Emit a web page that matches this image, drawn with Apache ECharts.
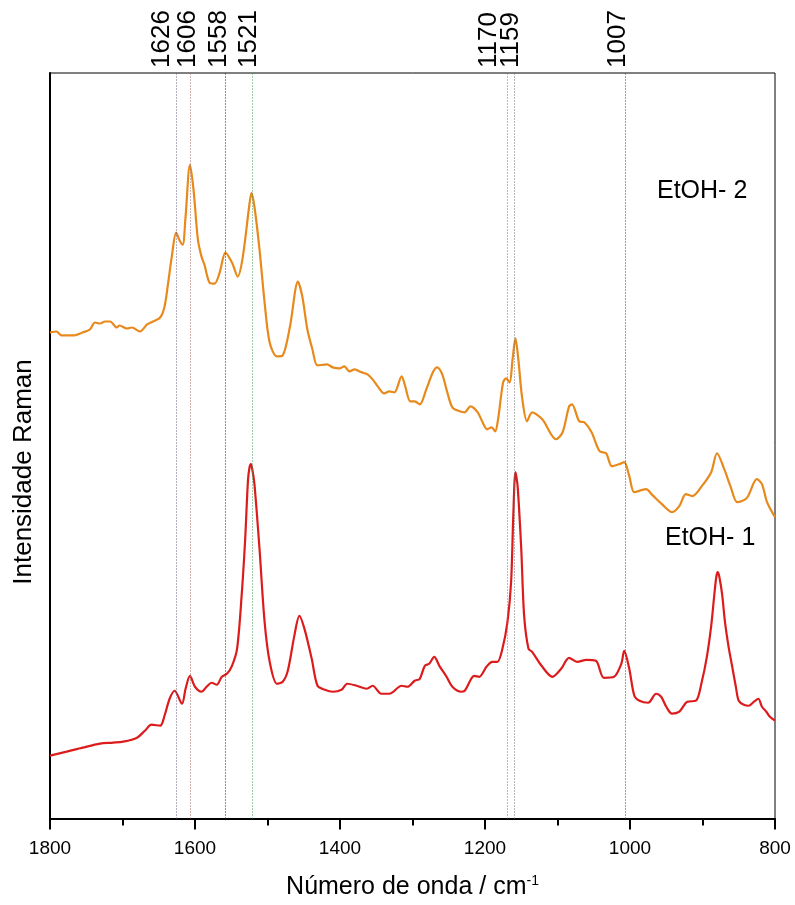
<!DOCTYPE html>
<html>
<head>
<meta charset="utf-8">
<script src="https://cdn.jsdelivr.net/npm/echarts@6/dist/echarts.min.js"></script>
<style>
html,body{margin:0;padding:0;background:#fff;}
#chart{width:795px;height:905px;}
</style>
</head>
<body>
<div id="chart"></div>
<script>
// ---- Data (wavenumber in cm^-1, Raman intensity in arbitrary units) ----
const wnEtOH2 = [1800,1791,1784,1768,1755,1745,1738,1731,1724,1717,1708,1704,1694,1687,1676,1666,1658,1648,1642,1637,1632,1626,1621,1617,1613,1607,1602,1596,1591,1587,1580,1573,1566,1558,1549,1541,1534,1525,1522,1518,1511,1504,1497,1487,1479,1469,1458,1452,1445,1438,1431,1418,1410,1401,1394,1387,1380,1370,1362,1355,1348,1339,1332,1325,1315,1310,1303,1297,1290,1281,1272,1266,1259,1252,1245,1235,1228,1220,1210,1204,1197,1191,1186,1182,1175,1171,1166,1162,1158,1154,1149,1142,1135,1121,1102,1093,1084,1080,1070,1063,1053,1042,1033,1025,1015,1008,1001,994,978,969,956,942,932,923,914,901,888,880,870,861,852,839,825,818,811,800];
const intEtOH2 = [487,488,484,484,487,490,497,496,498,498,492,494,491,492,488,495,498,502,513,537,563,587,579,575,603,655,630,580,563,555,537,536,547,567,557,543,563,615,627,613,570,517,477,463,464,493,538,523,490,470,454,455,452,451,453,448,450,447,445,440,433,426,428,427,443,433,418,418,415,430,447,452,445,427,412,408,407,413,407,398,390,392,388,400,437,441,437,460,481,460,423,398,407,400,380,387,413,415,398,397,387,368,366,353,355,357,343,327,330,324,315,307,313,325,323,333,347,366,350,332,317,321,340,335,317,302];

const wnEtOH1 = [1800,1777,1755,1731,1713,1699,1680,1669,1660,1648,1642,1635,1628,1618,1613,1607,1600,1591,1584,1577,1570,1563,1556,1549,1542,1536,1531,1527,1525,1523,1521,1518,1511,1504,1497,1487,1479,1472,1463,1456,1449,1439,1431,1421,1410,1398,1390,1377,1363,1355,1343,1332,1315,1307,1297,1290,1283,1277,1270,1263,1253,1245,1233,1228,1219,1215,1208,1198,1190,1183,1176,1169,1164,1161,1158,1155,1150,1146,1140,1135,1122,1107,1095,1084,1073,1060,1047,1036,1022,1012,1008,1001,994,987,975,964,957,950,942,932,921,909,901,894,888,884,881,879,877,873,869,864,859,854,850,843,836,829,823,818,812,807,800];
const intEtOH1 = [63,67,71,75,76,77,81,88,94,93,103,120,128,115,130,143,132,127,132,136,134,142,145,153,170,220,277,338,351,355,350,335,270,197,157,135,137,148,183,203,190,160,133,129,127,129,135,133,130,133,125,125,133,132,138,140,153,155,162,153,142,132,127,128,140,143,142,152,157,157,170,197,237,303,347,333,270,203,170,167,153,142,150,161,157,159,158,141,142,155,168,150,123,118,116,125,122,112,105,107,117,118,137,162,193,222,242,247,243,225,197,172,152,132,118,114,113,117,120,112,107,102,98];

const peakPositions = [1626,1606,1558,1521,1170,1159,1007];
const peakLabels = ['1626','1606','1558','1521','1170','1159','1007'];
const seriesNames = ['EtOH- 2','EtOH- 1'];
const xTicks = [1800,1600,1400,1200,1000,800];

// ---- Styles ----
const FONT = 'Liberation Sans, Arial, Helvetica, sans-serif';
const peakColors = ['#6a5a80','#a06868','#202040','#3f9a55','#3f9a55','#707070','#404040'];
const labelDx = [-14,-3,-7,-3,-18,-4,-7];
const Y_MAX = 747;

const zip = (a,b) => a.map((v,i)=>[v,b[i]]);

const chart = echarts.init(document.getElementById('chart'), null, {renderer:'canvas'});
chart.setOption({
  animation: false,
  backgroundColor: '#fff',
  grid: {left:50, right:20, top:73, bottom:85, show:true, borderColor:'#000', borderWidth:1, backgroundColor:'transparent'},
  xAxis: {
    type:'value', min:800, max:1800, interval:200, inverse:true,
    axisLine:{show:true, onZero:false, lineStyle:{color:'#000', width:2}},
    axisTick:{show:true, inside:false, length:11, lineStyle:{color:'#000', width:2}},
    minorTick:{show:true, splitNumber:2, length:7, lineStyle:{color:'#000', width:2}},
    splitLine:{show:false},
    axisLabel:{color:'#000', fontSize:19, fontFamily:FONT, margin:21,
      formatter: v => xTicks.includes(v) ? String(v) : ''},
    name:'Número de onda / cm{sup|-1}',
    nameLocation:'middle', nameGap:56,
    nameTextStyle:{color:'#000', fontSize:25, fontFamily:FONT,
      rich:{sup:{fontSize:14, fontFamily:FONT, color:'#000', verticalAlign:'top', padding:[0,0,12,0]}}}
  },
  yAxis: {
    type:'value', min:0, max:Y_MAX,
    axisLine:{show:true, lineStyle:{color:'#000', width:2}},
    axisTick:{show:false}, axisLabel:{show:false}, splitLine:{show:false}
  },
  graphic: [
    {type:'text', x:24, y:472, rotation:Math.PI/2,
     style:{text:'Intensidade Raman', fontSize:26, fontFamily:FONT, fill:'#000', textAlign:'center', textVerticalAlign:'middle'}},
    {type:'text', x:657, y:191,
     style:{text:seriesNames[0], fontSize:25, fontFamily:FONT, fill:'#000', textAlign:'left', textVerticalAlign:'middle'}},
    {type:'text', x:665, y:538,
     style:{text:seriesNames[1], fontSize:25, fontFamily:FONT, fill:'#000', textAlign:'left', textVerticalAlign:'middle'}}
  ],
  series: [
    {
      name: seriesNames[0], type:'line', data: zip(wnEtOH2,intEtOH2),
      showSymbol:false, smooth:0.3, z:3,
      lineStyle:{color:'#e8891c', width:2.2},
      markLine:{
        silent:true, symbol:'none', animation:false,
        label:{show:false},
        lineStyle:{type:[1,2], width:1},
        data: peakPositions.map((v,i)=>({xAxis:v, lineStyle:{color:peakColors[i], type:[1,2], width:1}}))
      }
    },
    {
      name: seriesNames[1], type:'line', data: zip(wnEtOH1,intEtOH1),
      showSymbol:false, smooth:0.3, z:3,
      lineStyle:{color:'#dc1c1c', width:2.2}
    },
    {
      type:'custom', clip:false, silent:true, z:5,
      data: peakPositions.map((v,i)=>[v, Y_MAX, i]),
      renderItem: function(params, api){
        const i = api.value(2);
        const p = api.coord([api.value(0), api.value(1)]);
        return {
          type:'text', x: p[0] + labelDx[i], y: p[1] - 5, rotation: Math.PI/2,
          style:{text: peakLabels[i], fontSize:26, fontFamily:FONT, fill:'#000', textAlign:'left', textVerticalAlign:'middle'}
        };
      }
    }
  ]
});
</script>
</body>
</html>
